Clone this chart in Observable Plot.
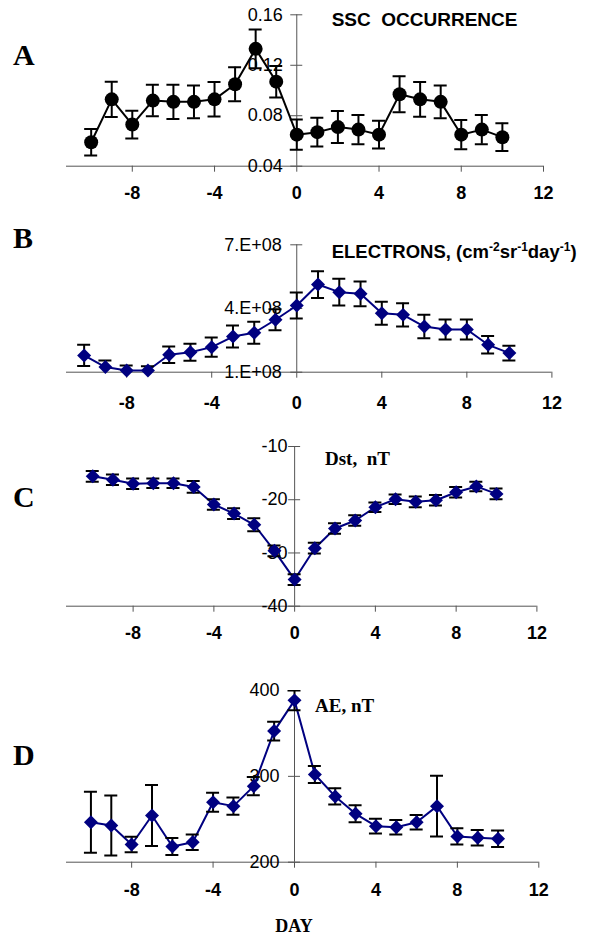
<!DOCTYPE html>
<html><head><meta charset="utf-8">
<script src="https://cdn.jsdelivr.net/npm/d3@7"></script>
<script src="https://cdn.jsdelivr.net/npm/@observablehq/plot@0.6"></script>
<style>
body{margin:0;background:#fff;}
#fig{position:relative;width:591px;height:937px;overflow:hidden;background:#fff;}
.panel{position:absolute;left:0;}
#ann{position:absolute;left:0;top:0;pointer-events:none;}
</style></head><body><div id="fig"></div>
<script>
// ---- data ----
const days = [-10,-9,-8,-7,-6,-5,-4,-3,-2,-1,0,1,2,3,4,5,6,7,8,9,10];
const xTicks = [-8,-4,0,4,8,12];

const sscValues = [0.059,0.093,0.073,0.092,0.091,0.091,0.093,0.105,0.133,0.107,0.065,0.067,0.071,0.069,0.065,0.097,0.093,0.091,0.065,0.069,0.063];
const sscErrors = [0.0105,0.014,0.011,0.0125,0.0135,0.013,0.0137,0.0135,0.0153,0.0125,0.012,0.0114,0.0127,0.0116,0.011,0.0143,0.0138,0.013,0.0116,0.0116,0.011];
const sscTicks = [0.04,0.08,0.12,0.16];
const sscTickLabels = ["0.04","0.08","0.12","0.16"];

const electronValues = [1.79e8,1.24e8,1.08e8,1.08e8,1.82e8,1.94e8,2.18e8,2.68e8,2.86e8,3.47e8,4.14e8,5.13e8,4.77e8,4.69e8,3.78e8,3.70e8,3.15e8,3.01e8,3.01e8,2.29e8,1.90e8];
const electronErrors = [0.5e8,0.31e8,0.24e8,0.2e8,0.39e8,0.4e8,0.45e8,0.52e8,0.52e8,0.5e8,0.61e8,0.63e8,0.63e8,0.58e8,0.54e8,0.55e8,0.55e8,0.47e8,0.47e8,0.41e8,0.35e8];
const electronTicks = [1e8,4e8,7e8];
const electronTickLabels = ["1.E+08","4.E+08","7.E+08"];

const dstValues = [-15.6,-16.25,-17.0,-16.9,-16.9,-17.6,-20.9,-22.6,-24.7,-29.6,-35.0,-29.1,-25.4,-23.9,-21.4,-19.9,-20.4,-20.1,-18.6,-17.5,-18.9];
const dstErrors = [1.0,1.0,1.0,0.9,0.9,1.1,1.0,1.0,1.2,1.0,1.0,1.0,1.0,1.0,0.9,0.9,1.0,1.0,1.0,0.9,1.0];
const dstTicks = [-40,-30,-20,-10];
const dstTickLabels = ["-40","-30","-20","-10"];

const aeValues = [246.6,242.8,220.6,254.4,218.3,223.3,269.9,265.3,288.6,352.7,388.5,302.2,276.6,256.4,242.0,240.8,246.6,265.3,230.0,228.4,227.3];
const aeErrors = [35.5,35,9,35.5,10,9,11,10,10.5,11,11.5,10,9.5,10,8.5,8.5,8.5,35.5,9.5,9,9.5];
const aeTicks = [200,300,400];
const aeTickLabels = ["200","300","400"];

// ---- drawing ----
const fig = document.getElementById("fig");
const axisColor = "#555";
const navy = "#000080";

function panel(o) {
  const rows = days.map((d, i) => ({day: d, v: o.values[i], lo: o.values[i] - o.errors[i], hi: o.values[i] + o.errors[i]}));
  const yRows = o.yTicks.map((t, i) => ({t, label: o.yLabels[i]}));
  const y0 = o.yDomain[0];
  const svg = Plot.plot({
    width: 591, height: o.height,
    marginLeft: o.mLeft, marginRight: o.mRight, marginTop: o.mTop, marginBottom: o.mBottom,
    x: {domain: [o.xMin, 12], axis: null},
    y: {domain: o.yDomain, axis: null},
    style: {fontFamily: "'Liberation Sans', Arial, sans-serif", fontSize: "18px", background: "transparent", overflow: "visible", color: "black"},
    marks: [
      Plot.ruleY([y0], {stroke: axisColor, strokeWidth: 1}),
      Plot.ruleX([0], {stroke: axisColor, strokeWidth: 1}),
      Plot.ruleX(xTicks, {x: d => d, y1: y0, y2: y0, insetBottom: -6, stroke: axisColor}),
      Plot.text(xTicks, {x: d => d, y: y0, dy: o.xLabelDy, text: d => String(d), fontWeight: "bold", fontSize: 18, fill: "black"}),
      Plot.ruleY(yRows, {y: "t", x1: 0, x2: 0, insetLeft: -6, insetRight: -6, stroke: axisColor}),
      Plot.text(yRows, {x: 0, y: "t", text: "label", textAnchor: "end", dx: o.labelDx, fontSize: 18, fill: "black"}),
      Plot.line(rows, {x: "day", y: "v", stroke: o.color, strokeWidth: 2}),
      Plot.ruleX(rows, {x: "day", y1: "lo", y2: "hi", stroke: "black", strokeWidth: 2, clip: true}),
      Plot.ruleY(rows, {y: "hi", x1: "day", x2: "day", insetLeft: -6.5, insetRight: -6.5, stroke: "black", strokeWidth: 2, clip: true}),
      Plot.ruleY(rows, {y: "lo", x1: "day", x2: "day", insetLeft: -6.5, insetRight: -6.5, stroke: "black", strokeWidth: 2, clip: true}),
      Plot.dot(rows, {x: "day", y: "v", r: o.r, symbol: o.symbol, fill: o.color, stroke: "none"})
    ]
  });
  svg.classList.add("panel");
  svg.style.top = o.top + "px";
  fig.appendChild(svg);
}

panel({top: 0, height: 210, values: sscValues, errors: sscErrors, yDomain: [0.04, 0.16], yTicks: sscTicks, yLabels: sscTickLabels,
  xMin: -11.2, mLeft: 66, mRight: 48, mTop: 14.3, mBottom: 44.3, color: "black", symbol: "circle", r: 7, labelDx: -14, xLabelDy: 27});
panel({top: 210, height: 210, values: electronValues, errors: electronErrors, yDomain: [1e8, 7e8], yTicks: electronTicks, yLabels: electronTickLabels,
  xMin: -10.83, mLeft: 66, mRight: 39.6, mTop: 34.3, mBottom: 48.3, color: navy, symbol: d3.symbolDiamond2, r: 6.3, labelDx: -15, xLabelDy: 31});
panel({top: 420, height: 220, values: dstValues, errors: dstErrors, yDomain: [-40, -10], yTicks: dstTicks, yLabels: dstTickLabels,
  xMin: -11.3, mLeft: 66, mRight: 54.6, mTop: 26, mBottom: 34.3, color: navy, symbol: d3.symbolDiamond2, r: 6.3, labelDx: -7, xLabelDy: 27});
panel({top: 640, height: 297, values: aeValues, errors: aeErrors, yDomain: [200, 400], yTicks: aeTicks, yLabels: aeTickLabels,
  xMin: -11.2, mLeft: 66, mRight: 52.7, mTop: 50, mBottom: 75.3, color: navy, symbol: d3.symbolDiamond2, r: 6.3, labelDx: -15, xLabelDy: 28});

// ---- annotations ----
const ann = d3.select(fig).append("svg").attr("id", "ann").attr("width", 591).attr("height", 937);
const serif = "'Liberation Serif', 'Times New Roman', serif";
const sans = "'Liberation Sans', Arial, sans-serif";
[["A", 13, 65], ["B", 13, 248], ["C", 13, 507], ["D", 13, 765]].forEach(([t, x, y]) =>
  ann.append("text").attr("x", x).attr("y", y).attr("font-family", serif).attr("font-weight", "bold").attr("font-size", 30).text(t));
ann.append("text").attr("x", 331.7).attr("y", 26).attr("font-family", sans).attr("font-weight", "bold").attr("font-size", 19)
  .style("white-space", "pre").text("SSC  OCCURRENCE");
const el = ann.append("text").attr("x", 331.7).attr("y", 258).attr("font-family", sans).attr("font-weight", "bold").attr("font-size", 18.5);
el.append("tspan").text("ELECTRONS, (cm");
el.append("tspan").attr("font-size", 12).attr("dy", -7).text("-2");
el.append("tspan").attr("dy", 7).text("sr");
el.append("tspan").attr("font-size", 12).attr("dy", -7).text("-1");
el.append("tspan").attr("dy", 7).text("day");
el.append("tspan").attr("font-size", 12).attr("dy", -7).text("-1");
el.append("tspan").attr("dy", 7).text(")");
ann.append("text").attr("x", 325).attr("y", 465).attr("font-family", serif).attr("font-weight", "bold").attr("font-size", 19)
  .style("white-space", "pre").text("Dst,  nT");
ann.append("text").attr("x", 315).attr("y", 712).attr("font-family", serif).attr("font-weight", "bold").attr("font-size", 19).text("AE, nT");
ann.append("text").attr("x", 294).attr("y", 932).attr("text-anchor", "middle").attr("font-family", serif).attr("font-weight", "bold").attr("font-size", 18).text("DAY");
</script></body></html>
